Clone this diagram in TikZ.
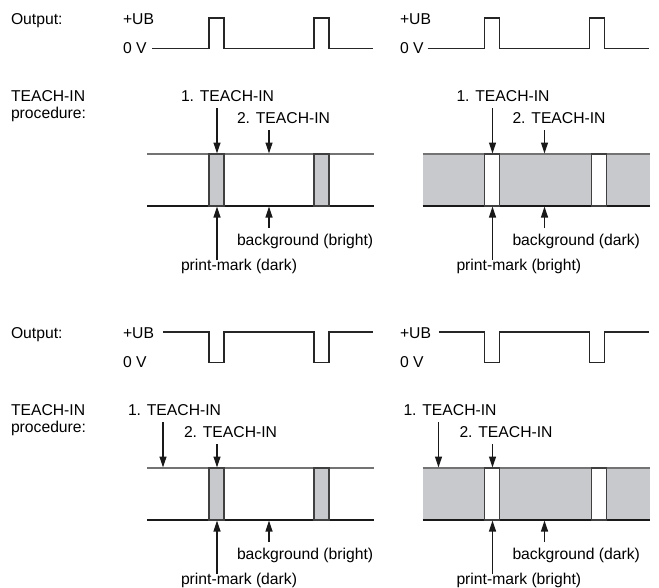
\documentclass[tikz,border=0pt]{standalone}
\usepackage{fontspec}
\setmainfont{Liberation Sans}
\usetikzlibrary{arrows.meta}
\definecolor{stripgray}{RGB}{200,201,204}
\newcommand\lblfont{\fontsize{15.7}{17}\selectfont}
\tikzset{
  lbl/.style={anchor=base west, inner sep=0pt, outer sep=0pt, font=\lblfont},
  wave/.style={line width=1.2pt, black!85},
  arr/.style={line width=1.2pt, black!90, -{Triangle[length=11pt,width=7pt]}},
  topline/.style={line width=1.3pt, black!55},
  botline/.style={line width=1.3pt, black!90},
  markdark/.style={fill=stripgray, draw=black!75, line width=1.2pt},
  markbright/.style={fill=white, draw=black!75, line width=1.2pt},
}
\begin{document}
\begin{tikzpicture}[x=1pt,y=-1pt]
\useasboundingbox (0,0) rectangle (659,587);

% ---------- left column labels ----------
\node[lbl] (out1) at (11,24) {Output:};
\node[lbl] (ti1) at (11,101) {TEACH-IN};
\node[lbl] (pr1) at (11,118) {procedure:};
\node[lbl] (out2) at (11,338) {Output:};
\node[lbl] (ti2) at (11,415) {TEACH-IN};
\node[lbl] (pr2) at (11,432) {procedure:};

% ---------- Panel A: top left ----------
\begin{scope}
\node[lbl] (A-ub) at (123,24) {+UB};
\node[lbl] (A-zv) at (123,53) {0 V};
\coordinate (A-w) at (152,48.5);
\draw[wave] (A-w) -- (209,48.5) |- (224,18) |- (314,48.5) |- (329,18) |- (373,48.5);
\draw[botline] (147,206) -- (374,206);
\draw[topline] (147,154) -- (374,154);
\draw[markdark] (209,154) rectangle (224,206);
\draw[markdark] (314,154) rectangle (329,206);
\node[lbl] (A-t1) at (181,101) {1. TEACH-IN};
\node[lbl] (A-t2) at (237,123) {2. TEACH-IN};
\coordinate (A-a1s) at (217,108); \coordinate (A-a1e) at (217,153.5);
\coordinate (A-a2s) at (269,130); \coordinate (A-a2e) at (269,153.5);
\draw[arr] (A-a1s) -- (A-a1e);
\draw[arr] (A-a2s) -- (A-a2e);
\node[lbl] (A-bg) at (237,245) {background (bright)};
\node[lbl] (A-pm) at (181,270) {print-mark (dark)};
\coordinate (A-b1s) at (217,260); \coordinate (A-b1e) at (217,206.5);
\coordinate (A-b2s) at (269,228); \coordinate (A-b2e) at (269,206.5);
\draw[arr] (A-b1s) -- (A-b1e);
\draw[arr] (A-b2s) -- (A-b2e);
\end{scope}

% ---------- Panel B: top right ----------
\begin{scope}[shift={(275.5,0)}]
\node[lbl] (B-ub) at (124.5,24) {+UB};
\node[lbl] (B-zv) at (124.5,53) {0 V};
\coordinate (B-w) at (152,48.5);
\draw[wave] (B-w) -- (209,48.5) |- (224,18) |- (314,48.5) |- (329,18) |- (373,48.5);
\fill[stripgray] (147,154) rectangle (374,206);
\draw[botline] (147,206) -- (374,206);
\draw[topline] (147,154) -- (374,154);
\draw[markbright] (209,154) rectangle (224,206);
\draw[markbright] (316,154) rectangle (331,206);
\node[lbl] (B-t1) at (181,101) {1. TEACH-IN};
\node[lbl] (B-t2) at (237,123) {2. TEACH-IN};
\coordinate (B-a1s) at (217,108); \coordinate (B-a1e) at (217,153.5);
\coordinate (B-a2s) at (269,130); \coordinate (B-a2e) at (269,153.5);
\draw[arr] (B-a1s) -- (B-a1e);
\draw[arr] (B-a2s) -- (B-a2e);
\node[lbl] (B-bg) at (237,245) {background (dark)};
\node[lbl] (B-pm) at (181,270) {print-mark (bright)};
\coordinate (B-b1s) at (217,260); \coordinate (B-b1e) at (217,206.5);
\coordinate (B-b2s) at (269,228); \coordinate (B-b2e) at (269,206.5);
\draw[arr] (B-b1s) -- (B-b1e);
\draw[arr] (B-b2s) -- (B-b2e);
\end{scope}

% ---------- Panel C: bottom left ----------
\begin{scope}[shift={(0,314)}]
\node[lbl] (C-ub) at (123,24) {+UB};
\node[lbl] (C-zv) at (123,53) {0 V};
\coordinate (C-w) at (163,18);
\draw[wave] (C-w) -- (209,18) |- (224,48.5) |- (314,18) |- (329,48.5) |- (373,18);
\draw[botline] (147,206) -- (374,206);
\draw[topline] (147,154) -- (374,154);
\draw[markdark] (209,154) rectangle (224,206);
\draw[markdark] (314,154) rectangle (329,206);
\node[lbl] (C-t1) at (128,101) {1. TEACH-IN};
\node[lbl] (C-t2) at (184,123) {2. TEACH-IN};
\coordinate (C-a1s) at (163,108); \coordinate (C-a1e) at (163,153.5);
\coordinate (C-a2s) at (217,130); \coordinate (C-a2e) at (217,153.5);
\draw[arr] (C-a1s) -- (C-a1e);
\draw[arr] (C-a2s) -- (C-a2e);
\node[lbl] (C-bg) at (237,245) {background (bright)};
\node[lbl] (C-pm) at (181,270) {print-mark (dark)};
\coordinate (C-b1s) at (217,260); \coordinate (C-b1e) at (217,206.5);
\coordinate (C-b2s) at (269,228); \coordinate (C-b2e) at (269,206.5);
\draw[arr] (C-b1s) -- (C-b1e);
\draw[arr] (C-b2s) -- (C-b2e);
\end{scope}

% ---------- Panel D: bottom right ----------
\begin{scope}[shift={(275.5,314)}]
\node[lbl] (D-ub) at (124.5,24) {+UB};
\node[lbl] (D-zv) at (124.5,53) {0 V};
\coordinate (D-w) at (163,18);
\draw[wave] (D-w) -- (209,18) |- (224,48.5) |- (314,18) |- (329,48.5) |- (373,18);
\fill[stripgray] (147,154) rectangle (374,206);
\draw[botline] (147,206) -- (374,206);
\draw[topline] (147,154) -- (374,154);
\draw[markbright] (209,154) rectangle (224,206);
\draw[markbright] (316,154) rectangle (331,206);
\node[lbl] (D-t1) at (128,101) {1. TEACH-IN};
\node[lbl] (D-t2) at (184,123) {2. TEACH-IN};
\coordinate (D-a1s) at (163,108); \coordinate (D-a1e) at (163,153.5);
\coordinate (D-a2s) at (217,130); \coordinate (D-a2e) at (217,153.5);
\draw[arr] (D-a1s) -- (D-a1e);
\draw[arr] (D-a2s) -- (D-a2e);
\node[lbl] (D-bg) at (237,245) {background (dark)};
\node[lbl] (D-pm) at (181,270) {print-mark (bright)};
\coordinate (D-b1s) at (217,260); \coordinate (D-b1e) at (217,206.5);
\coordinate (D-b2s) at (269,228); \coordinate (D-b2e) at (269,206.5);
\draw[arr] (D-b1s) -- (D-b1e);
\draw[arr] (D-b2s) -- (D-b2e);
\end{scope}
\end{tikzpicture}
\end{document}
